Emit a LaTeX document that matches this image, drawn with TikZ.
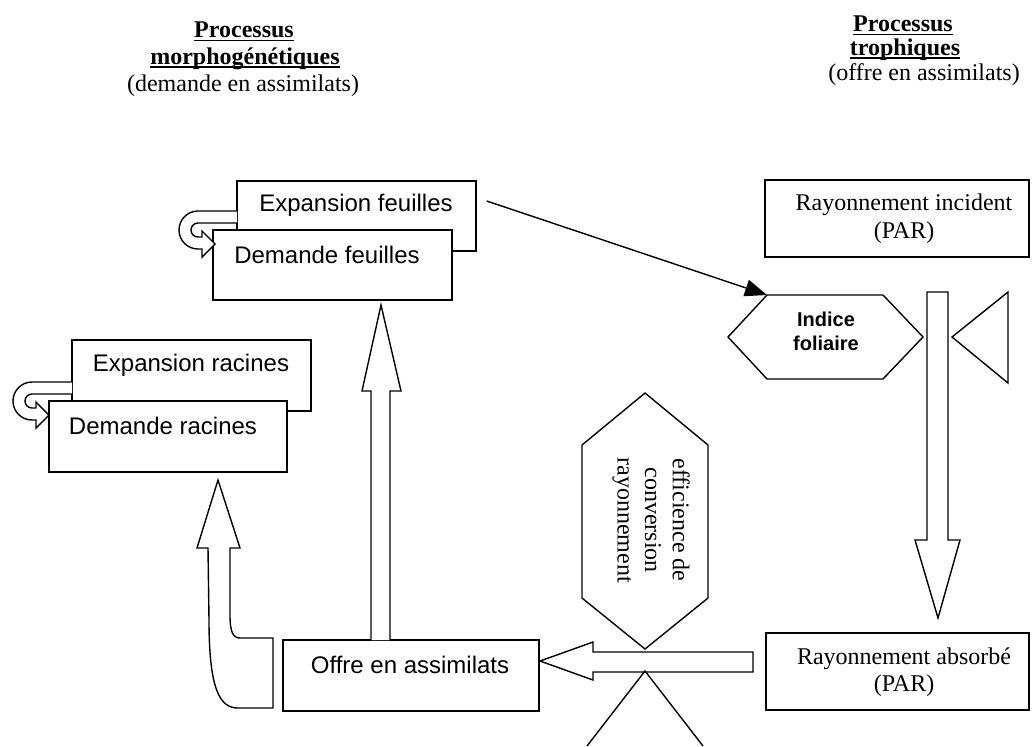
\documentclass[tikz,border=0pt]{standalone}
\usepackage{fontspec}
\setmainfont{Liberation Serif}
\setsansfont{Liberation Sans}
\usetikzlibrary{arrows.meta,fit}
\newsavebox{\ulbox}
\newcommand{\wordul}[1]{\sbox{\ulbox}{#1}\rlap{\rule[-1.8pt]{\wd\ulbox}{0.6pt}}\usebox{\ulbox}}
\begin{document}
\begin{tikzpicture}[x=0.5pt,y=-0.5pt,
  line width=0.7pt, line join=miter,
  box/.style={draw, fill=white, inner sep=0pt},
  sanstxt/.style={font=\sffamily\fontsize{12}{13.8}\selectfont, inner sep=0pt},
  seriftxt/.style={font=\rmfamily\fontsize{12}{13.8}\selectfont, inner sep=0pt, align=center},
  hdr/.style={font=\rmfamily\bfseries\fontsize{12}{13.8}\selectfont, inner sep=0pt, anchor=base},
  hdrsub/.style={font=\rmfamily\fontsize{12}{13.8}\selectfont, inner sep=0pt, anchor=base},
  blockarrow/.style={draw, fill=white, line join=miter},
]
\useasboundingbox (0,0) rectangle (1032,746);

% headers
\node[hdr] (h1a) at (244,37.5) {\wordul{Processus}};
\node[hdr] (h1b) at (245,64) {\wordul{morphogénétiques}};
\node[hdrsub] (h1c) at (243,91) {(demande en assimilats)};
\node[hdr] (h2a) at (903,31.5) {\wordul{Processus}};
\node[hdr] (h2b) at (905,55) {\wordul{trophiques}};
\node[hdrsub] (h2c) at (924,80) {(offre en assimilats)};

% leaves boxes
\node[box, fit={(237,181)(476,251)}] (ef) {};
\node[sanstxt] (eft) at (356,205) {Expansion feuilles};
\node[box, fit={(213,230)(452,300)}] (df) {};
\node[sanstxt] (dft) at (327,255) {Demande feuilles};
\draw[blockarrow, shift={(198,211)}] (39,0) -- (0,0) arc[start angle=270,end angle=90,radius=19]
  -- (4,38) -- (4,46) -- (17,33) -- (4,20) -- (4,26) -- (0,26)
  arc[start angle=90,end angle=270,radius=7] -- (39,12);

% roots boxes
\node[box, fit={(72,340)(311,411)}] (er) {};
\node[sanstxt] (ert) at (191,365) {Expansion racines};
\node[box, fit={(49,401)(287,472)}] (dr) {};
\node[sanstxt] (drt) at (163,426) {Demande racines};
\draw[blockarrow, shift={(32,382)}] (40,0) -- (0,0) arc[start angle=270,end angle=90,radius=19]
  -- (4,38) -- (4,46) -- (17,33) -- (4,20) -- (4,26) -- (0,26)
  arc[start angle=90,end angle=270,radius=7] -- (40,12);

% offre
\node[box, fit={(283,640)(539,711)}] (off) {};
\node[sanstxt] (offt) at (410,665) {Offre en assimilats};

% arrow to leaves
\draw[blockarrow] (371,640) -- (371,391) -- (362,391) -- (381,305) -- (401,391) -- (390,391) -- (390,640);

% curved arrow to roots
\draw[blockarrow] (230,548) -- (230,615) .. controls (230,632) and (233,638) .. (240,638)
  -- (273,638) -- (273,708) -- (238,708) .. controls (220,708) and (209,690) .. (209,620)
  -- (208,548) -- (197,548) -- (218,480) -- (240,548) -- cycle;

% efficience hexagon
\draw (645,393) -- (708,445) -- (708,598) -- (645,649) -- (582,598) -- (582,445) -- cycle;
\node[seriftxt, rotate=-90] (eff) at (651,520) {efficience de\\conversion\\rayonnement};

% horizontal arrow
\draw[blockarrow] (753,652) -- (593,652) -- (593,642) -- (540,661) -- (593,680) -- (593,672) -- (753,672) -- cycle;
\draw (587,746) -- (645,671) -- (703,746);

% right side
\node[box, fit={(765,180)(1029,257)}] (ri) {};
\node[seriftxt] (rit) at (904,219) {Rayonnement incident\\(PAR)};
\draw (767,295) -- (883,295) -- (923,337) -- (883,379) -- (767,379) -- (728,337) -- cycle;
\coordinate (laiNW) at (767,295);
\node[font=\sffamily\bfseries\fontsize{10}{12}\selectfont, align=center, inner sep=0pt] (lai) at (826,331) {Indice\\foliaire};
\draw[blockarrow] (927,292) -- (927,540) -- (915,540) -- (938,618) -- (960,540) -- (948,540) -- (948,292) -- cycle;
\draw (1008,292) -- (952,337) -- (1008,383) -- cycle;
\node[box, fit={(766,633)(1029,710)}] (ra) {};
\node[seriftxt] (rat) at (904,672) {Rayonnement absorbé\\(PAR)};

\draw[-{Triangle[length=11pt,width=8.5pt]}] ([shift={(10,-15)}]ef.east) -- (laiNW);
\end{tikzpicture}
\end{document}
